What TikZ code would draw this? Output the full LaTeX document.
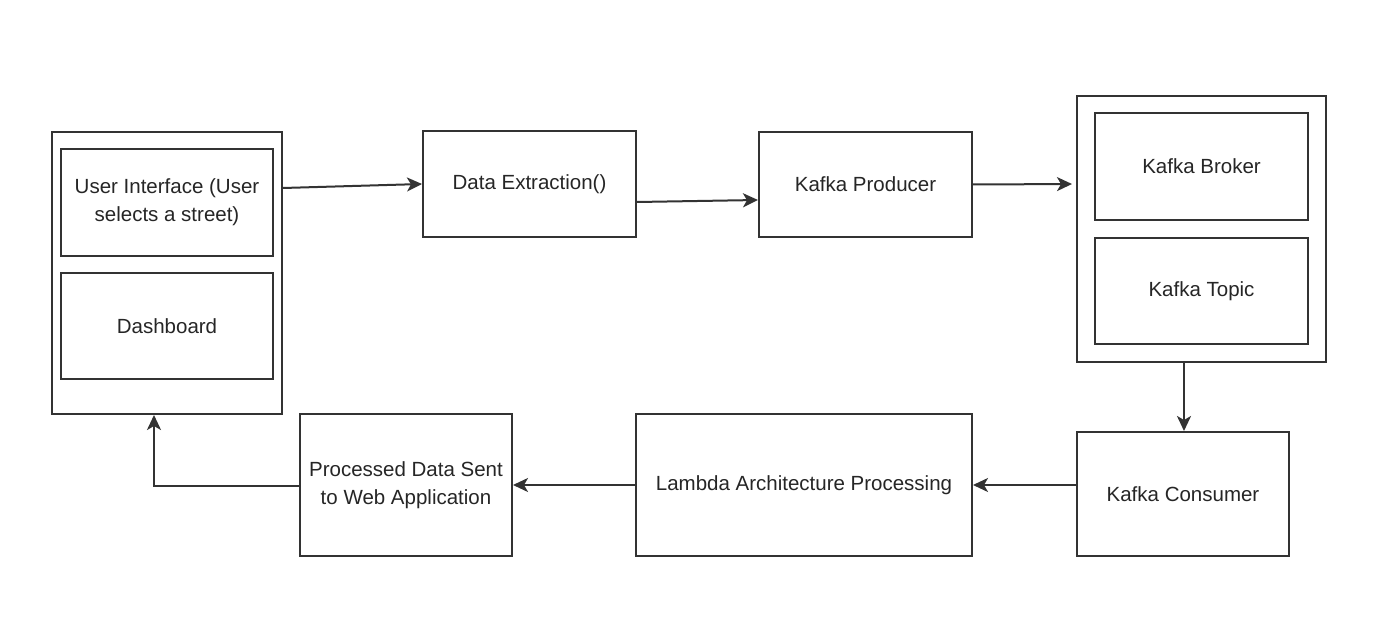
\documentclass[tikz,border=0pt]{standalone}
\usepackage{fontspec}
\setmainfont{Liberation Sans}
\usetikzlibrary{arrows.meta}
\begin{document}
\begin{tikzpicture}[x=1pt,y=-1pt,
  every node/.style={font=\fontsize{20.5}{28}\selectfont, text=black!85},
  box/.style={draw=black!80, line width=2pt, rectangle, inner sep=0pt, align=center, fill=white},
  conn/.style={draw=black!80, line width=2pt, -{Stealth[length=15pt,width=14pt,inset=4pt]}}
]
\useasboundingbox (0,0) rectangle (1400,620);
\fill[white] (0,0) rectangle (1400,620);

% left container
\node[box, minimum width=230pt, minimum height=282pt] (outerL) at (167,273) {};
\node[box, minimum width=212pt, minimum height=107pt] (ui) at (167,202.5) {User Interface (User\\selects a street)};
\node[box, minimum width=212pt, minimum height=106pt] (dash) at (167,326) {Dashboard};

% top row
\node[box, minimum width=213pt, minimum height=106pt] (dx) at (529.5,184) {Data Extraction()};
\node[box, minimum width=213pt, minimum height=105pt] (prod) at (865.5,184.5) {Kafka Producer};

% right container
\node[box, minimum width=249pt, minimum height=266pt] (outerR) at (1201.5,229) {};
\node[box, minimum width=213pt, minimum height=107pt] (broker) at (1201.5,166.5) {Kafka Broker};
\node[box, minimum width=213pt, minimum height=106pt] (topic) at (1201.5,291) {Kafka Topic};

% bottom row
\node[box, minimum width=212pt, minimum height=124pt] (cons) at (1183,494) {Kafka Consumer};
\node[box, minimum width=336pt, minimum height=142pt] (lambda) at (804,485) {Lambda Architecture Processing};
\node[box, minimum width=212pt, minimum height=142pt] (proc) at (406,485) {Processed Data Sent\\to Web Application};

% connectors
\coordinate (uiout) at ([yshift=85pt]outerL.east);
\coordinate (rdown) at ([xshift=-17.5pt]outerR.south);
\draw[conn] (uiout) -- (dx.west);
\draw[conn] ([yshift=-18pt]dx.east) -- ([yshift=-15.5pt]prod.west);
\draw[conn, shorten >=4pt] (prod.east) -- ([yshift=45pt]outerR.west);
\draw[conn] (rdown) -- (rdown |- cons.north);
\draw[conn] ([yshift=9pt]cons.west) -- (lambda.east);
\draw[conn] (lambda.west) -- (proc.east);
\draw[conn] ([yshift=-1pt]proc.west) -| ([xshift=-13pt]outerL.south);
\end{tikzpicture}
\end{document}
